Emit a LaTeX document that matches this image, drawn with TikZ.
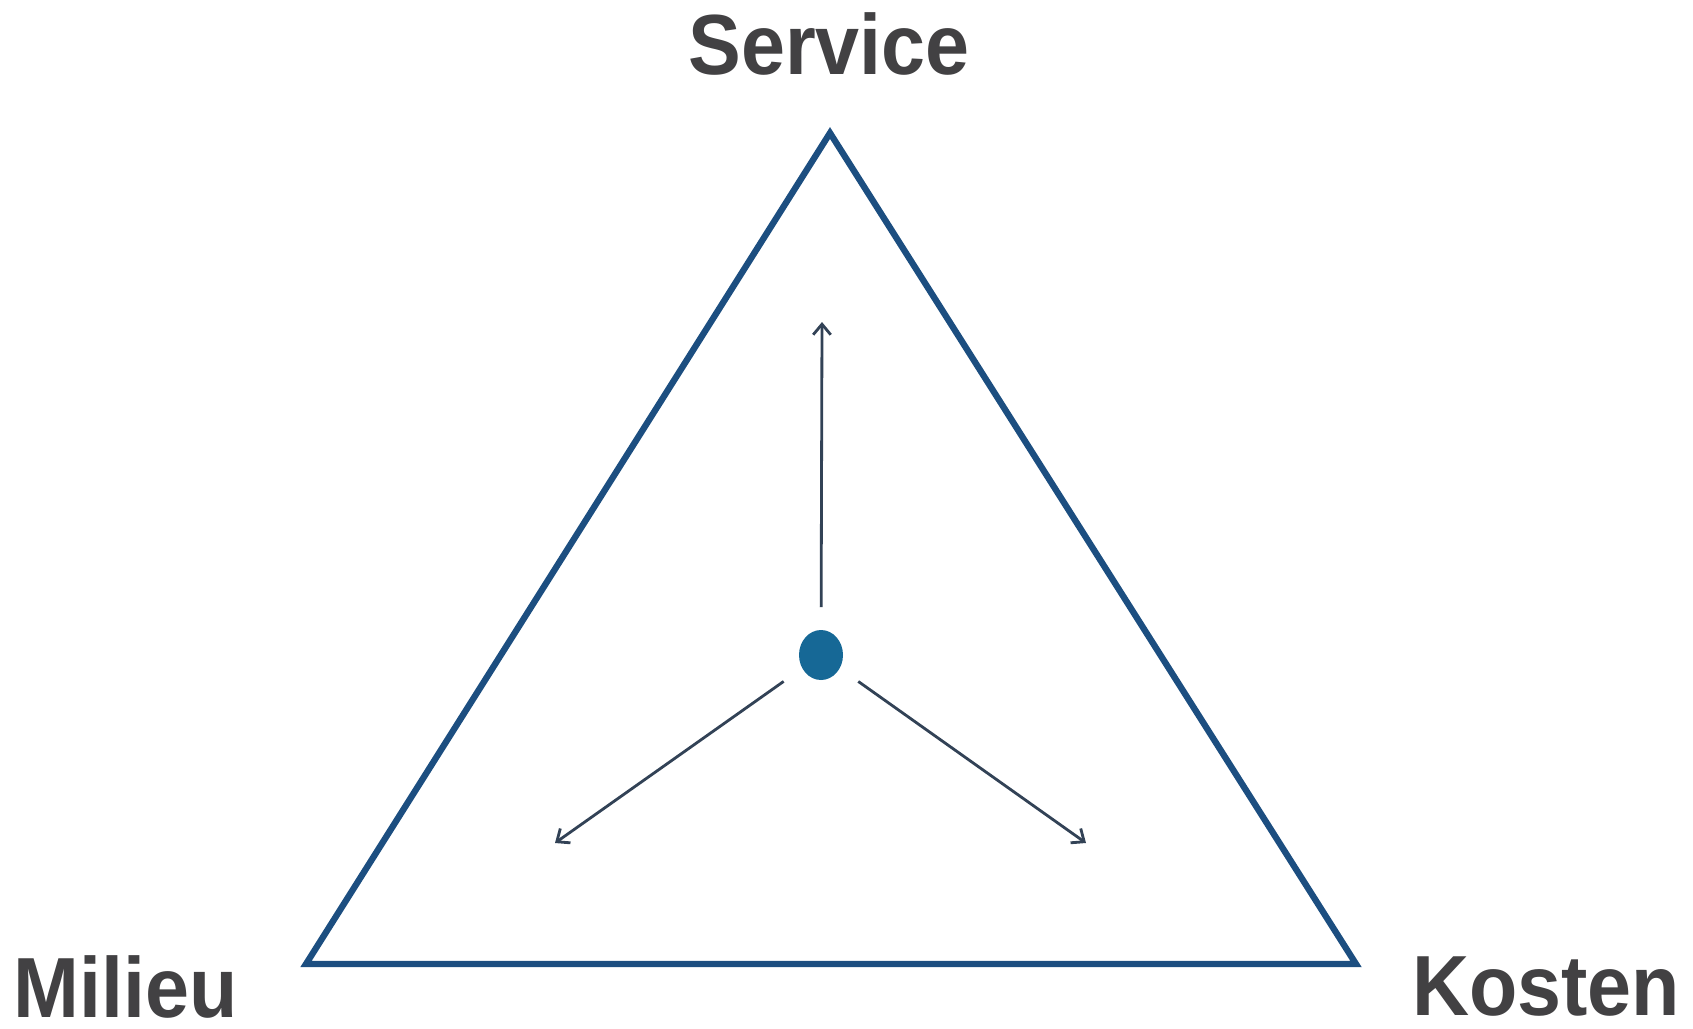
\documentclass[tikz,border=0pt]{standalone}
\usepackage{fontspec}
\setmainfont{Liberation Sans}
\usetikzlibrary{arrows.meta,shapes.geometric}
\definecolor{tri}{RGB}{28,78,128}
\definecolor{dotc}{RGB}{22,104,150}
\definecolor{arr}{RGB}{50,66,86}
\definecolor{txt}{RGB}{66,65,67}

\begin{document}
\begin{tikzpicture}[x=0.02cm,y=-0.02cm,
    lbl/.style={anchor=base,text=txt,font=\fontsize{45}{50}\selectfont\bfseries,inner sep=0pt,yscale=1.08},
    pointer/.style={arr,line width=1.6pt,shorten <=0.45cm,-{Straight Barb[length=6pt,width=10pt]}}]
    \useasboundingbox (0,0) rectangle (1693,1028);
    \coordinate (A1) at (830,133);
    \coordinate (A2) at (306,964);
    \coordinate (A3) at (1356,964);
    \coordinate (B1) at (822,322);
    \coordinate (B2) at (555,843);
    \coordinate (B3) at (1086,843);
    %
    \draw[tri,line width=3.6pt,line join=miter] (A1) -- (A2) -- (A3) -- cycle;
    %
    \node[ellipse,fill=dotc,minimum width=0.88cm,minimum height=1.0cm,inner sep=0pt] (C) at (821,655) {};
    \draw[pointer] (C) -- (B1);
    \draw[pointer] (C) -- (B2);
    \draw[pointer] (C) -- (B3);
    %
    \node[lbl] (S) at (829,74) {Service};
    \node[lbl] (M) at (126,1017) {Milieu};
    \node[lbl] (K) at (1546,1015) {Kosten};
    %
\end{tikzpicture}
\end{document}
